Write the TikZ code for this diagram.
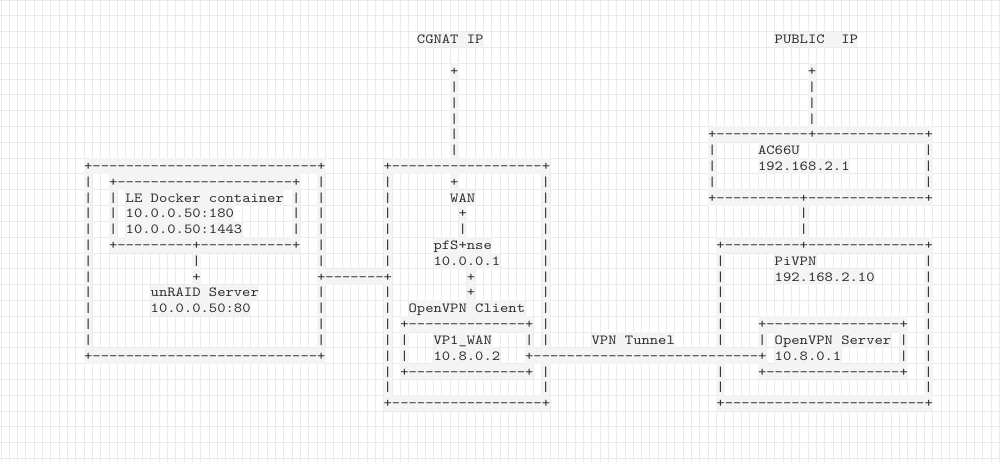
\documentclass[tikz,border=0pt]{standalone}
\usepackage{fontspec}
\setmonofont{lmmono10-regular.otf}[FakeStretch=1.143]
\definecolor{gridc}{HTML}{EBEBEB}
\definecolor{cellc}{HTML}{F4F4F4}
\definecolor{txtc}{HTML}{2E2E2E}
\ExplSyntaxOn
\cs_new:Npn \myrep #1#2 { \prg_replicate:nn {#1} {#2} }
\ExplSyntaxOff
\tikzset{
  ascii/.style={anchor=base west, inner sep=0pt, outer sep=0pt, fill=cellc, text=txtc,
    text height=12.4pt, text depth=3.41pt,
    font=\ttfamily\fontsize{13.87pt}{15.81pt}\selectfont},
  gridline/.style={draw=gridc, line width=0.85pt}
}
% row, column, text
\newcommand\ascrun[3]{\node[ascii] (n#1-#2) at ({84.14+8.32*#2},{-(39.5+15.81*#1+4.5)}) {#3};}
\begin{document}
\begin{tikzpicture}[x=1pt,y=1pt]
\fill[white] (0,0) rectangle (1000,-462);
\useasboundingbox (0,0) rectangle (1000,-462);
\foreach \k in {-10,...,110} \draw[gridline] ({84.14+8.32*\k},0) -- ({84.14+8.32*\k},-462);
\foreach \k in {-2,...,27} \draw[gridline] (0,{-(31.6+15.81*\k)}) -- (1000,{-(31.6+15.81*\k)});

\ascrun{0}{40}{CGNAT IP}
\ascrun{0}{83}{PUBLIC~~IP}
\ascrun{2}{44}{+} \ascrun{2}{87}{+}
\ascrun{3}{44}{|} \ascrun{3}{87}{|}
\ascrun{4}{44}{|} \ascrun{4}{87}{|}
\ascrun{5}{44}{|} \ascrun{5}{87}{|}
\ascrun{6}{44}{|} \ascrun{6}{75}{+\myrep{11}{-}+\myrep{13}{-}+}
\ascrun{7}{44}{|} \ascrun{7}{75}{|} \ascrun{7}{81}{AC66U} \ascrun{7}{101}{|}
\ascrun{8}{0}{+\myrep{27}{-}+} \ascrun{8}{36}{+\myrep{18}{-}+} \ascrun{8}{75}{|} \ascrun{8}{81}{192.168.2.1} \ascrun{8}{101}{|}
\ascrun{9}{0}{|} \ascrun{9}{3}{+\myrep{21}{-}+} \ascrun{9}{28}{|} \ascrun{9}{36}{|} \ascrun{9}{44}{+} \ascrun{9}{55}{|} \ascrun{9}{75}{|} \ascrun{9}{101}{|}
\ascrun{10}{0}{|} \ascrun{10}{3}{|} \ascrun{10}{5}{LE Docker container} \ascrun{10}{25}{|} \ascrun{10}{28}{|} \ascrun{10}{36}{|} \ascrun{10}{44}{WAN} \ascrun{10}{55}{|} \ascrun{10}{75}{+\myrep{10}{-}+\myrep{14}{-}+}
\ascrun{11}{0}{|} \ascrun{11}{3}{|} \ascrun{11}{5}{10.0.0.50:180} \ascrun{11}{25}{|} \ascrun{11}{28}{|} \ascrun{11}{36}{|} \ascrun{11}{45}{+} \ascrun{11}{55}{|} \ascrun{11}{86}{|}
\ascrun{12}{0}{|} \ascrun{12}{3}{|} \ascrun{12}{5}{10.0.0.50:1443} \ascrun{12}{25}{|} \ascrun{12}{28}{|} \ascrun{12}{36}{|} \ascrun{12}{45}{|} \ascrun{12}{55}{|} \ascrun{12}{86}{|}
\ascrun{13}{0}{|} \ascrun{13}{3}{+\myrep{9}{-}+\myrep{11}{-}+} \ascrun{13}{28}{|} \ascrun{13}{36}{|} \ascrun{13}{42}{pfS+nse} \ascrun{13}{55}{|} \ascrun{13}{76}{+\myrep{9}{-}+\myrep{14}{-}+}
\ascrun{14}{0}{|} \ascrun{14}{13}{|} \ascrun{14}{28}{|} \ascrun{14}{36}{|} \ascrun{14}{42}{10.0.0.1} \ascrun{14}{55}{|} \ascrun{14}{76}{|} \ascrun{14}{83}{PiVPN} \ascrun{14}{101}{|}
\ascrun{15}{0}{|} \ascrun{15}{13}{+} \ascrun{15}{28}{+\myrep{7}{-}+} \ascrun{15}{46}{+} \ascrun{15}{55}{|} \ascrun{15}{76}{|} \ascrun{15}{83}{192.168.2.10} \ascrun{15}{101}{|}
\ascrun{16}{0}{|} \ascrun{16}{8}{unRAID Server} \ascrun{16}{28}{|} \ascrun{16}{36}{|} \ascrun{16}{46}{+} \ascrun{16}{55}{|} \ascrun{16}{76}{|} \ascrun{16}{101}{|}
\ascrun{17}{0}{|} \ascrun{17}{8}{10.0.0.50:80} \ascrun{17}{28}{|} \ascrun{17}{36}{|} \ascrun{17}{39}{OpenVPN Client} \ascrun{17}{55}{|} \ascrun{17}{76}{|} \ascrun{17}{101}{|}
\ascrun{18}{0}{|} \ascrun{18}{28}{|} \ascrun{18}{36}{|} \ascrun{18}{38}{+\myrep{14}{-}+} \ascrun{18}{55}{|} \ascrun{18}{76}{|} \ascrun{18}{81}{+\myrep{16}{-}+} \ascrun{18}{101}{|}
\ascrun{19}{0}{|} \ascrun{19}{28}{|} \ascrun{19}{36}{|} \ascrun{19}{38}{|} \ascrun{19}{42}{VP1\_WAN} \ascrun{19}{53}{|} \ascrun{19}{55}{|} \ascrun{19}{61}{VPN Tunnel} \ascrun{19}{76}{|} \ascrun{19}{81}{|} \ascrun{19}{83}{OpenVPN Server} \ascrun{19}{98}{|} \ascrun{19}{101}{|}
\ascrun{20}{0}{+\myrep{27}{-}+} \ascrun{20}{36}{|} \ascrun{20}{38}{|} \ascrun{20}{42}{10.8.0.2} \ascrun{20}{53}{+\myrep{27}{-}+} \ascrun{20}{83}{10.8.0.1} \ascrun{20}{98}{|} \ascrun{20}{101}{|}
\ascrun{21}{36}{|} \ascrun{21}{38}{+\myrep{14}{-}+} \ascrun{21}{55}{|} \ascrun{21}{76}{|} \ascrun{21}{81}{+\myrep{16}{-}+} \ascrun{21}{101}{|}
\ascrun{22}{36}{|} \ascrun{22}{55}{|} \ascrun{22}{76}{|} \ascrun{22}{101}{|}
\ascrun{23}{36}{+\myrep{18}{-}+} \ascrun{23}{76}{+\myrep{24}{-}+}
\end{tikzpicture}
\end{document}
